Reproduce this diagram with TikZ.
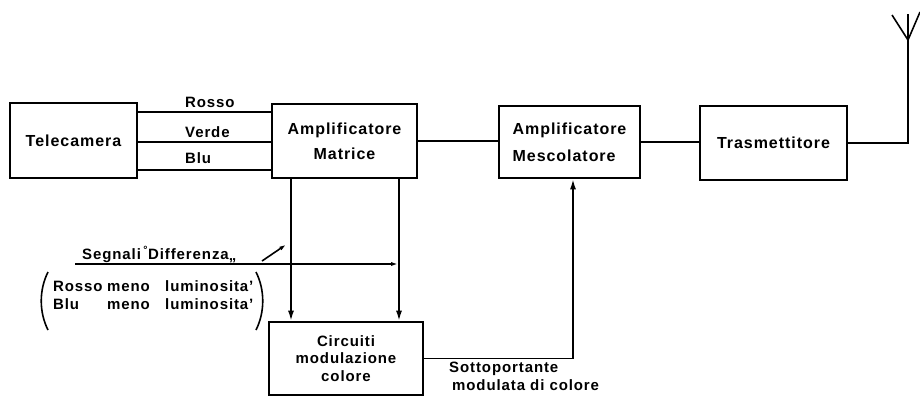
\documentclass[tikz,border=0pt]{standalone}
\usepackage{fontspec}
\setmainfont{Liberation Sans}[LetterSpace=6]
\usetikzlibrary{arrows.meta}
\begin{document}
\begin{tikzpicture}[x=1pt,y=-1pt,
  lbl/.style={font=\bfseries\fontsize{15}{17.5}\selectfont, inner sep=0pt},
  box/.style={draw, line width=2.6pt, inner sep=0pt, align=center,
              font=\bfseries\fontsize{16}{18}\selectfont},
  wire/.style={line width=1.6pt},
  arr/.style={wire, -{Latex[length=10pt,width=6pt]}},
  arrs/.style={wire, -{Latex[length=8pt,width=4pt]}}]
\fill[white] (0,0) rectangle (920,400);
\useasboundingbox (0,0) rectangle (920,400);

% blocks
\node[box, minimum width=127pt, minimum height=75pt] (tele) at (73.5,140.5) {Telecamera};
\node[box, minimum width=145pt, minimum height=74pt] (matr) at (344.5,141) {Amplificatore\\[7pt]Matrice};
\node[box, minimum width=141pt, minimum height=72pt, align=left] (mesc) at (569.5,142) {Amplificatore\\[9pt]Mescolatore};
\node[box, minimum width=147pt, minimum height=74pt] (tras) at (773.5,143) {Trasmettitore};
\node[box, minimum width=154pt, minimum height=73pt, font=\bfseries\fontsize{15}{17.5}\selectfont] (circ) at (346,358.5) {Circuiti\\modulazione\\colore};

% RGB wires
\coordinate (r1) at ([yshift=28.5pt]tele.east);
\coordinate (g1) at ([yshift=-1.5pt]tele.east);
\coordinate (b1) at ([yshift=-29.5pt]tele.east);
\draw[wire] (r1) -- (r1 -| matr.west);
\draw[wire] (g1) -- (g1 -| matr.west);
\draw[wire] (b1) -- (b1 -| matr.west);
\node[lbl, anchor=west] (lr) at (185,102) {Rosso};
\node[lbl, anchor=west] (lv) at (185,132) {Verde};
\node[lbl, anchor=west] (lb) at (185,158) {Blu};

% main chain
\draw[wire] (matr.east) -- (matr.east -| mesc.west);
\draw[wire] (mesc.east) -- (mesc.east -| tras.west);

% antenna
\coordinate (ant) at (908,40);
\coordinate (mast) at (908,14);
\coordinate (armL) at (892,15);
\coordinate (armR) at (920,12);
\draw[wire] (tras.east) -| (ant) -- (mast);
\draw[wire] (armL) -- (ant) -- (armR);

% difference signals
\coordinate (v1) at (291,0);
\coordinate (v2) at (399,0);
\draw[arr] (matr.south -| v1) -- (circ.north -| v1);
\draw[arr] (matr.south -| v2) -- (circ.north -| v2);
\coordinate (sgL) at (75,264);
\coordinate (sgR) at (399,264);
\draw[arrs] (sgL) -- (sgR);
\coordinate (s1) at (262,261);
\coordinate (s2) at (287,244);
\draw[arrs] (s1) -- (s2);
\node[lbl, anchor=base west] (sg) at (82,259) {Segnali\,\textsuperscript{°}Differenza\raisebox{-1pt}{„}};

% bracketed text
\node[lbl, anchor=west, align=left] (pt) at (53,297)
  {\begin{tabular}{@{}p{54pt}@{}p{58pt}@{}l@{}}Rosso & meno & luminosita'\\[1pt] Blu & meno & luminosita'\end{tabular}};
\draw[wire] (48,272) .. controls (39,290) and (39,312) .. (48,330);
\draw[wire] (256,272) .. controls (265,290) and (265,312) .. (256,330);

% subcarrier
\coordinate (sp) at (573,358.5);
\draw[arr] (circ.east) -- (sp) -- (sp |- mesc.south);
\node[lbl, anchor=north west, align=left] (sl) at (449,362) {Sottoportante\\\hspace{3pt}modulata di colore};
\end{tikzpicture}
\end{document}
